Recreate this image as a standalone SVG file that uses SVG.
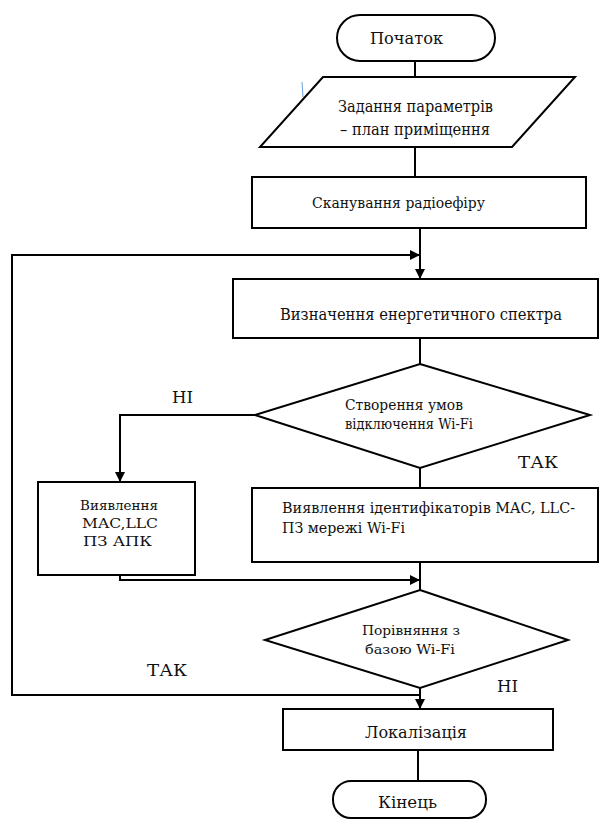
<svg xmlns="http://www.w3.org/2000/svg" width="601" height="821" viewBox="0 0 601 821">
<defs>
<marker id="arr" viewBox="0 0 10 10" refX="10" refY="5" markerWidth="5" markerHeight="5" orient="auto" markerUnits="strokeWidth">
<path d="M0,0 L10,5 L0,10 Z" fill="#000"/>
</marker>
<style>
.s{fill:#fff;stroke:#000;stroke-width:2}
.c{fill:none;stroke:#000;stroke-width:2}
text{fill:#111}
</style>
</defs>
<rect width="601" height="821" fill="#fff"/>
<g id="connectors">
<line class="c" x1="415" y1="61" x2="415" y2="77"/>
<line class="c" x1="415" y1="147" x2="415" y2="177"/>
<line class="c" x1="420" y1="228" x2="420" y2="279" marker-end="url(#arr)"/>
<polyline class="c" points="420,695 12,695 12,255 420,255" marker-end="url(#arr)"/>
<line class="c" x1="420" y1="338" x2="420" y2="364"/>
<polyline class="c" points="255,415 120,415 120,482" marker-end="url(#arr)"/>
<line class="c" x1="420" y1="468" x2="420" y2="488"/>
<polyline class="c" points="120,575 120,580 420,580" marker-end="url(#arr)"/>
<line class="c" x1="420" y1="562" x2="420" y2="590"/>
<line class="c" x1="420" y1="688" x2="420" y2="709" marker-end="url(#arr)"/>
<line class="c" x1="418" y1="750" x2="418" y2="781"/>
</g>
<g id="labels" font-family="DejaVu Serif, serif" font-size="16">
<text x="172" y="403" textLength="21" lengthAdjust="spacingAndGlyphs">НІ</text>
<text x="518" y="468" textLength="40" lengthAdjust="spacingAndGlyphs">ТАК</text>
<text x="147" y="676" textLength="40" lengthAdjust="spacingAndGlyphs">ТАК</text>
<text x="497" y="692" textLength="21" lengthAdjust="spacingAndGlyphs">НІ</text>
</g>
<g id="start" font-family="DejaVu Serif, serif">
<rect class="s" x="337" y="15" width="158" height="46" rx="23"/>
<text x="370" y="44" font-size="16" textLength="73" lengthAdjust="spacingAndGlyphs">Початок</text>
</g>
<g id="input" font-family="DejaVu Serif, serif">
<polygon class="s" points="323,77 575,77 512,147 260,147"/>
<line x1="302" y1="82" x2="303" y2="97" stroke="#6aa0e0" stroke-width="1"/>
<text x="338" y="112" font-size="16" textLength="155" lengthAdjust="spacingAndGlyphs">Задання параметрів</text>
<text x="340" y="135" font-size="16" textLength="150" lengthAdjust="spacingAndGlyphs">– план приміщення</text>
</g>
<g id="scan" font-family="DejaVu Serif, serif">
<rect class="s" x="252" y="177" width="334" height="51"/>
<text x="312" y="208" font-size="15" textLength="173" lengthAdjust="spacingAndGlyphs">Сканування радіоефіру</text>
</g>
<g id="spectrum" font-family="DejaVu Serif, serif">
<rect class="s" x="233" y="279" width="365" height="59"/>
<text x="280" y="320" font-size="16" textLength="282" lengthAdjust="spacingAndGlyphs">Визначення енергетичного спектра</text>
</g>
<g id="decision1" font-family="DejaVu Serif, serif">
<polygon class="s" points="420,364 590,415 420,468 255,415"/>
<text x="345" y="410" font-size="14" textLength="118" lengthAdjust="spacingAndGlyphs">Створення умов</text>
<text x="345" y="429" font-size="14" textLength="128" lengthAdjust="spacingAndGlyphs">відключення Wi-Fi</text>
</g>
<g id="detect-apk" font-family="DejaVu Serif, serif">
<rect class="s" x="38" y="482" width="157" height="93"/>
<text x="80" y="510" font-size="13.5" textLength="78" lengthAdjust="spacingAndGlyphs">Виявлення</text>
<text x="82" y="528" font-size="13.5" textLength="76" lengthAdjust="spacingAndGlyphs">MAC,LLC</text>
<text x="83" y="546" font-size="13.5" textLength="69" lengthAdjust="spacingAndGlyphs">ПЗ АПК</text>
</g>
<g id="detect-wifi" font-family="DejaVu Serif, serif">
<rect class="s" x="252" y="488" width="346" height="74"/>
<text x="282" y="513" font-size="14" textLength="293" lengthAdjust="spacingAndGlyphs">Виявлення ідентифікаторів MAC, LLC-</text>
<text x="282" y="533" font-size="14" textLength="123" lengthAdjust="spacingAndGlyphs">ПЗ мережі Wi-Fi</text>
</g>
<g id="decision2" font-family="DejaVu Serif, serif">
<polygon class="s" points="420,590 568,640 420,688 265,640"/>
<text x="362" y="635" font-size="13.5" textLength="98" lengthAdjust="spacingAndGlyphs">Порівняння з</text>
<text x="365" y="654" font-size="13.5" textLength="90" lengthAdjust="spacingAndGlyphs">базою Wi-Fi</text>
</g>
<g id="localize" font-family="DejaVu Serif, serif">
<rect class="s" x="283" y="709" width="270" height="41"/>
<text x="365" y="738" font-size="16" textLength="102" lengthAdjust="spacingAndGlyphs">Локалізація</text>
</g>
<g id="end" font-family="DejaVu Serif, serif">
<rect class="s" x="333" y="781" width="153" height="37" rx="18"/>
<text x="378" y="808" font-size="16" textLength="59" lengthAdjust="spacingAndGlyphs">Кінець</text>
</g>
</svg>
